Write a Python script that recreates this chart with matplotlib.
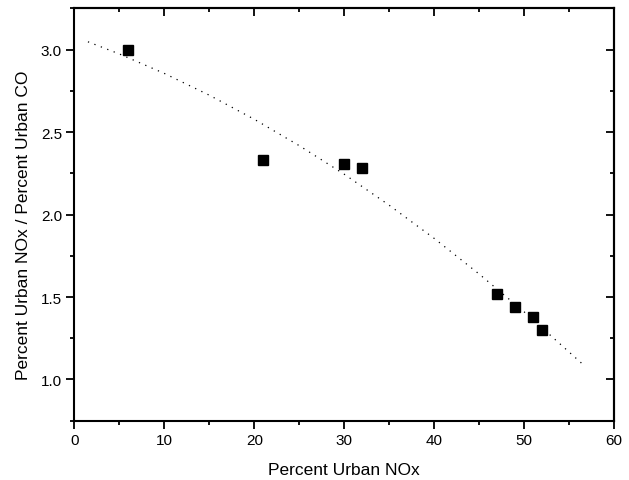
import matplotlib
matplotlib.use("Agg")
import matplotlib.pyplot as plt
from matplotlib.ticker import MultipleLocator

plt.rcParams['font.family'] = ['Liberation Sans', 'DejaVu Sans']

# Measured points
nox_pct = [6, 21, 30, 32, 47, 49, 51, 52]
ratio = [3.00, 2.334, 2.309, 2.285, 1.516, 1.439, 1.376, 1.297]

# Fit curve
fit_x = [1.5, 5, 10, 15, 20, 25, 30, 35, 40, 45, 50, 56.5]
fit_y = [3.048, 2.974, 2.856, 2.724, 2.578, 2.418, 2.245, 2.057, 1.856, 1.640, 1.411, 1.094]

x_ticks = [0, 10, 20, 30, 40, 50, 60]
y_ticks = [1.0, 1.5, 2.0, 2.5, 3.0]

fig = plt.figure(figsize=(6.29, 4.81), dpi=100)
ax = fig.add_axes([0.1184, 0.1233, 0.8576, 0.8570])

ax.plot(fit_x, fit_y, color='black', linestyle=(0, (1, 4.5)), linewidth=0.9)
ax.plot(nox_pct, ratio, linestyle='none', marker='s', markersize=6.5,
        color='black', markeredgecolor='black')

ax.set_xlim(0, 60)
ax.set_ylim(0.75, 3.25)
ax.set_xticks(x_ticks)
ax.set_yticks(y_ticks)
ax.set_yticklabels([f"{v:.1f}" for v in y_ticks])
ax.xaxis.set_minor_locator(MultipleLocator(5))
ax.yaxis.set_minor_locator(MultipleLocator(0.25))

for s in ax.spines.values():
    s.set_linewidth(1.5)

ax.tick_params(which='major', direction='out', length=6, width=1.3, labelsize=11, pad=3)
ax.tick_params(which='minor', direction='out', length=3, width=1.3)

top = ax.secondary_xaxis('top')
top.set_xticks(x_ticks)
top.xaxis.set_minor_locator(MultipleLocator(5))
top.tick_params(which='major', direction='in', length=6, width=1.3, labeltop=False)
top.tick_params(which='minor', direction='in', length=3, width=1.3)
top.spines['top'].set_linewidth(1.5)

right = ax.secondary_yaxis('right')
right.set_yticks(y_ticks)
right.yaxis.set_minor_locator(MultipleLocator(0.25))
right.tick_params(which='major', direction='in', length=6, width=1.3, labelright=False)
right.tick_params(which='minor', direction='in', length=3, width=1.3)
right.spines['right'].set_linewidth(1.5)

ax.set_xlabel('Percent Urban NOx', fontsize=12.5, labelpad=11)
ax.set_ylabel('Percent Urban NOx / Percent Urban CO', fontsize=12.5)
ax.yaxis.set_label_coords(-0.081, 0.477)

fig.savefig('out.png', dpi=100)
